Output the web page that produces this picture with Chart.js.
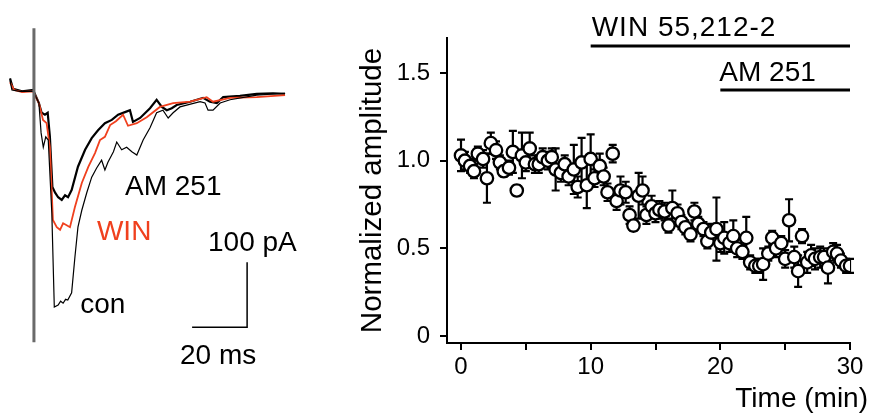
<!DOCTYPE html>
<html>
<head>
<meta charset="utf-8">
<script src="https://cdn.jsdelivr.net/npm/chart.js@4.4.1/dist/chart.umd.min.js"></script>
<style>
  body { margin: 0; background: #fff; width: 874px; height: 415px; position: relative; overflow: hidden; }
  #traces { position: absolute; left: 0; top: 0; }
  #summary { position: absolute; left: 330px; top: 0; }
</style>
</head>
<body>
<canvas id="traces" width="320" height="415" style="width:320px;height:415px"></canvas>
<canvas id="summary" width="544" height="415" style="width:544px;height:415px"></canvas>
<script>
// ---- left panel: example EPSC traces (time in ms, current in pA)
const conMs  = [0, 0.7, 3.6, 6.5, 8.4, 10.5, 11.3, 12.1, 13.0, 13.9, 15.2, 16.1, 17.5, 18.4, 19.3, 20.2, 21.0, 22.4, 23.6, 24.7, 26.1, 27.9, 29.7, 31.5, 33.3, 34.5, 35.6, 37.6, 38.8, 40.6, 42.4, 44.3, 46.1, 48.4, 50.9, 53.3, 55.6, 57.5, 59.3, 61.8, 69.1, 70.9, 72.0, 73.8, 76.4, 80.0, 89.7, 100];
const conPa  = [15, 0, -2, -2, -2, -20, -66, -88, -72, -77, -189, -334, -331, -325, -328, -322, -323, -312, -257, -211, -185, -158, -134, -120, -108, -123, -111, -95, -80, -92, -88, -95, -100, -77, -58, -35, -31, -43, -35, -26, -18, -20, -31, -31, -20, -15, -8, -5];

const winMs  = [0, 1.5, 4.4, 8.4, 10.5, 12.0, 13.3, 14.5, 15.6, 17.0, 18.2, 19.3, 20.6, 21.8, 23.6, 26.1, 28.5, 30.9, 32.7, 34.5, 36.4, 38.5, 41.1, 42.9, 46.1, 49.7, 54.5, 59.3, 65.5, 71.5, 73.8, 80.0, 89.7, 100];
const winPa  = [12, 0, -3, -2, -20, -46, -51, -88, -200, -211, -215, -205, -208, -211, -180, -143, -118, -97, -77, -72, -54, -48, -38, -55, -51, -42, -26, -20, -18, -11, -18, -12, -11, -8];

const amMs   = [0, 1.1, 4.4, 8.4, 10.5, 11.5, 12.7, 13.7, 14.5, 15.4, 16.4, 17.5, 18.8, 20.0, 21.1, 22.4, 24.7, 27.3, 29.7, 32.0, 34.5, 37.0, 39.3, 41.8, 43.6, 44.7, 47.3, 50.9, 53.3, 55.2, 57.0, 58.8, 60.6, 65.5, 70.2, 72.7, 75.2, 77.5, 83.6, 89.7, 95.6, 100];
const amPa   = [18, 2, -2, 0, -20, -35, -38, -35, -72, -149, -158, -165, -169, -162, -165, -154, -118, -92, -74, -62, -51, -46, -38, -34, -31, -49, -43, -28, -15, -26, -31, -28, -23, -18, -12, -18, -20, -11, -9, -6, -5, -6];

const artifactMs = [8.7, 8.7];
const artifactPa = [95, -388];

// scale bar: 20 ms by 100 pA
const barMs = [66.2, 86.2, 86.2];
const barPa = [-365, -365, -265];

// ---- right panel: normalized amplitude vs time
const times = [0, 0.3, 0.7, 1, 1.3, 1.7, 2, 2.3, 2.7, 3, 3.3, 3.7, 4, 4.3, 4.7, 5, 5.3, 5.7, 6, 6.3, 6.7, 7, 7.3, 7.7, 8, 8.3, 8.7, 9, 9.3, 9.7,
  10, 10.3, 10.7, 11, 11.3, 11.7, 12, 12.3, 12.7, 13, 13.3, 13.7, 14, 14.3, 14.7, 15, 15.3, 15.7, 16, 16.3, 16.7, 17, 17.3, 17.7, 18, 18.3, 18.7, 19, 19.3, 19.7,
  20, 20.3, 20.7, 21, 21.3, 21.7, 22, 22.3, 22.7, 23, 23.3, 23.7, 24, 24.3, 24.7, 25, 25.3, 25.7, 26, 26.3, 26.7, 27, 27.3, 27.7, 28, 28.3, 28.7, 29, 29.3, 29.7, 30];
const amplitude = [1.03, 1.00, 0.97, 0.94, 1.04, 1.01, 0.90, 1.10, 1.06, 0.99,
  0.94, 0.96, 1.05, 0.83, 1.03, 0.99, 1.07, 0.98, 0.98, 1.02,
  1.00, 1.02, 0.95, 0.93, 0.98, 0.91, 0.95, 0.85, 0.99, 0.86,
  1.01, 0.90, 0.97, 0.91, 0.82, 1.04, 0.77, 0.83, 0.82, 0.69,
  0.63, 0.80, 0.83, 0.69, 0.74, 0.70, 0.72, 0.71, 0.63, 0.73,
  0.70, 0.65, 0.62, 0.58, 0.71, 0.64, 0.61, 0.54, 0.59, 0.61,
  0.53, 0.56, 0.53, 0.57, 0.50, 0.48, 0.56, 0.42, 0.40, 0.40,
  0.41, 0.47, 0.56, 0.50, 0.53, 0.44, 0.66, 0.45, 0.37, 0.57,
  0.42, 0.46, 0.44, 0.45, 0.45, 0.39, 0.48, 0.47, 0.43, 0.40,
  0.40];
const sem = [0.09, 0.05, 0.04, 0.04, 0.04, 0.05, 0.14, 0.06, 0.05, 0.04,
  0.03, 0.04, 0.12, 0.03, 0.13, 0.05, 0.09, 0.05, 0.05, 0.05,
  0.05, 0.05, 0.12, 0.05, 0.05, 0.05, 0.14, 0.06, 0.14, 0.13,
  0.14, 0.05, 0.07, 0.05, 0.05, 0.05, 0.05, 0.08, 0.06, 0.05,
  0.03, 0.13, 0.08, 0.05, 0.06, 0.05, 0.05, 0.05, 0.04, 0.10,
  0.05, 0.04, 0.04, 0.04, 0.05, 0.04, 0.04, 0.04, 0.05, 0.18,
  0.05, 0.09, 0.05, 0.09, 0.05, 0.04, 0.12, 0.04, 0.04, 0.04,
  0.09, 0.04, 0.04, 0.05, 0.04, 0.05, 0.12, 0.06, 0.09, 0.04,
  0.06, 0.06, 0.06, 0.06, 0.05, 0.09, 0.05, 0.05, 0.04, 0.04,
  0.04];

const xTicks = [0, 5, 10, 15, 20, 25, 30];
const yTicks = [0, 0.5, 1, 1.5];
const yTickLabels = ['0', '0.5', '1.0', '1.5'];

// drug application periods (min) and the level of the bar
const winPeriod = [10, 30];
const amPeriod = [20, 30];
const winBarLevel = 1.654;
const amBarLevel = 1.403;

const FONT = '"Liberation Sans", Arial, Helvetica, sans-serif';
const RED = '#f0401e';

const zip = (xs, ys) => xs.map((x, i) => ({ x: x, y: ys[i] }));

// text on the left panel, anchored in data units
const traceLabels = [
  { text: 'AM 251', x: 41.8, y: -161, color: '#000' },
  { text: 'WIN', x: 31.6, y: -231, color: RED },
  { text: 'con', x: 25.5, y: -343, color: '#000' },
  { text: '100 pA', x: 72, y: -248, color: '#000' },
  { text: '20 ms', x: 61.8, y: -421, color: '#000' }
];

const traceLabelPlugin = {
  id: 'traceLabels',
  afterDraw(chart) {
    const { ctx, scales: { x, y } } = chart;
    ctx.save();
    ctx.font = '28px ' + FONT;
    ctx.textBaseline = 'alphabetic';
    ctx.textAlign = 'left';
    traceLabels.forEach(l => {
      ctx.fillStyle = l.color;
      ctx.fillText(l.text, x.getPixelForValue(l.x), y.getPixelForValue(l.y));
    });
    ctx.restore();
  }
};

new Chart(document.getElementById('traces'), {
  type: 'scatter',
  data: {
    datasets: [
      { data: zip(artifactMs, artifactPa), borderColor: '#6a6a6a', borderWidth: 3 },
      { data: zip(conMs, conPa), borderColor: '#000', borderWidth: 1.2 },
      { data: zip(winMs, winPa), borderColor: RED, borderWidth: 1.8 },
      { data: zip(amMs, amPa), borderColor: '#000', borderWidth: 2.2 },
      { data: zip(barMs, barPa), borderColor: '#000', borderWidth: 1.5 }
    ].map(d => Object.assign(d, { showLine: true, pointRadius: 0, tension: 0, fill: false }))
  },
  options: {
    responsive: false,
    animation: false,
    events: [],
    layout: { padding: 0 },
    plugins: { legend: { display: false }, tooltip: { enabled: false } },
    scales: {
      x: { type: 'linear', display: false, min: -3.64, max: 112.7 },
      y: { type: 'linear', display: false, min: -500, max: 138.5 }
    }
  },
  plugins: [traceLabelPlugin]
});

// error bars drawn under the circles
const errorBarPlugin = {
  id: 'errorBars',
  beforeDatasetsDraw(chart) {
    const { ctx, scales: { x, y } } = chart;
    ctx.save();
    ctx.strokeStyle = '#000';
    ctx.lineWidth = 2.2;
    times.forEach((t, i) => {
      const px = x.getPixelForValue(t);
      const top = y.getPixelForValue(amplitude[i] + sem[i]);
      const bot = y.getPixelForValue(amplitude[i] - sem[i]);
      ctx.beginPath();
      ctx.moveTo(px, top); ctx.lineTo(px, bot);
      ctx.moveTo(px - 4, top); ctx.lineTo(px + 4, top);
      ctx.moveTo(px - 4, bot); ctx.lineTo(px + 4, bot);
      ctx.stroke();
    });
    ctx.restore();
  }
};

const summaryTextPlugin = {
  id: 'summaryText',
  afterDraw(chart) {
    const { ctx, scales: { x, y } } = chart;
    ctx.save();
    ctx.fillStyle = '#000';
    ctx.font = '28px ' + FONT;
    ctx.textAlign = 'left';
    ctx.textBaseline = 'alphabetic';
    ctx.letterSpacing = '1px';
    ctx.fillText('WIN 55,212-2', x.getPixelForValue(winPeriod[0]) + 1, y.getPixelForValue(winBarLevel) - 10);
    ctx.letterSpacing = '0px';
    ctx.fillText('AM 251', x.getPixelForValue(amPeriod[0]) - 1, y.getPixelForValue(amBarLevel) - 9);
    ctx.textAlign = 'right';
    ctx.fillText('Time (min)', chart.width - 6, chart.height - 8);
    ctx.restore();
  }
};

new Chart(document.getElementById('summary'), {
  type: 'scatter',
  data: {
    datasets: [
      {
        data: zip(times, amplitude),
        pointRadius: 6.2,
        pointBorderWidth: 2.3,
        pointBackgroundColor: '#fff',
        pointBorderColor: '#000',
        showLine: false
      },
      {
        data: zip(winPeriod, [winBarLevel, winBarLevel]),
        showLine: true, pointRadius: 0, borderColor: '#000', borderWidth: 3
      },
      {
        data: zip(amPeriod, [amBarLevel, amBarLevel]),
        showLine: true, pointRadius: 0, borderColor: '#000', borderWidth: 3
      }
    ]
  },
  options: {
    responsive: false,
    animation: false,
    events: [],
    layout: { padding: { top: 38, right: 24, left: 0, bottom: 0 } },
    plugins: { legend: { display: false }, tooltip: { enabled: false } },
    scales: {
      x: {
        type: 'linear',
        min: -1.08,
        max: 30,
        afterBuildTicks: axis => { axis.ticks = xTicks.map(v => ({ value: v })); },
        afterFit: scale => { scale.height = 72; },
        ticks: {
          color: '#000',
          font: { family: FONT, size: 24 },
          padding: 3,
          maxRotation: 0,
          autoSkip: false,
          callback: v => (v % 10 === 0 ? String(v) : '')
        },
        grid: { drawOnChartArea: false, drawTicks: true, tickLength: 7, lineWidth: 2, color: '#000' },
        border: { display: true, width: 2, color: '#000' }
      },
      y: {
        type: 'linear',
        min: -0.04,
        max: 1.7,
        afterBuildTicks: axis => { axis.ticks = yTicks.map(v => ({ value: v })); },
        afterFit: scale => { scale.width = 117; },
        ticks: {
          color: '#000',
          font: { family: FONT, size: 24 },
          padding: 10,
          autoSkip: false,
          callback: v => yTickLabels[yTicks.indexOf(v)]
        },
        title: {
          display: true,
          text: 'Normalized amplitude',
          color: '#000',
          font: { family: FONT, size: 29.5 },
          padding: { top: 25 }
        },
        grid: { drawOnChartArea: false, drawTicks: true, tickLength: 7, lineWidth: 2, color: '#000' },
        border: { display: true, width: 2, color: '#000' }
      }
    }
  },
  plugins: [errorBarPlugin, summaryTextPlugin]
});
</script>
</body>
</html>
